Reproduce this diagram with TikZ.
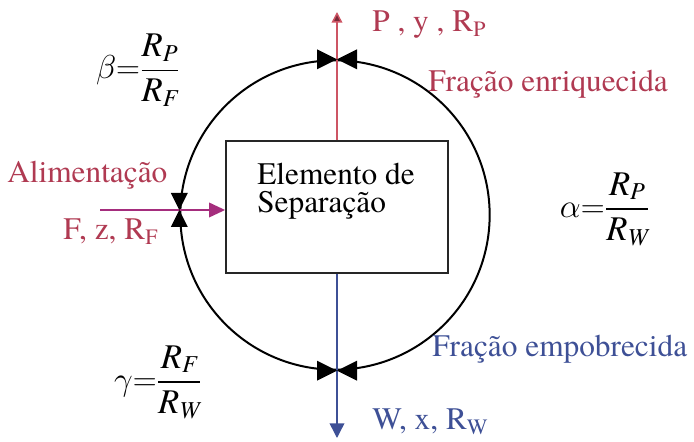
\documentclass[tikz,border=0pt]{standalone}
\usepackage{amsmath}
\usepackage{fontspec}
\setmainfont{texgyretermes}[Extension=.otf, UprightFont=*-regular,
  ItalicFont=*-italic, BoldFont=*-bold, BoldItalicFont=*-bolditalic]
\usetikzlibrary{arrows.meta,positioning}
\definecolor{enrichred}{RGB}{176,58,82}
\definecolor{linered}  {RGB}{205,85,100}
\definecolor{feedmag}  {RGB}{165,45,125}
\definecolor{depblue}  {RGB}{62,80,150}

\newcommand{\sepratio}[3]{$#1{=}\dfrac{\textit{R}_{\textit{#2}}}{\textit{R}_{\textit{#3}}}$}

\begin{document}
\begin{tikzpicture}[
  x=0.75pt, y=-0.75pt,
  lbl/.style={font=\fontsize{23.5}{21.5}\selectfont, inner sep=0pt, anchor=base west},
  ratiolbl/.style={font=\fontsize{26}{30}\selectfont, inner sep=0pt},
  stage/.style={circle, draw=black, line width=1.5pt, minimum size=232pt, inner sep=0pt},
  element/.style={rectangle, draw=black!85, line width=1.4pt,
    minimum width=166.5pt, minimum height=99pt, inner sep=0pt},
  redflow/.style={draw=linered, line width=1.1pt,
    -{Triangle[length=8pt,width=8pt,fill=enrichred!70!black]}},
  blueflow/.style={draw=depblue, line width=1.1pt,
    -{Triangle[length=11pt,width=11pt]}},
  feedflow/.style={draw=feedmag, line width=1.1pt,
    -{Triangle[length=12pt,width=11pt]}},
  valve/.pic={\fill[black] (-20,-10) -- (20,10) -- (20,-10) -- (-20,10) -- cycle;},
]
\useasboundingbox (0,0) rectangle (694,442);

% stage boundary and separating element
\node[stage]   (circ) at (335,215) {};
\node[element] (box)  at (337,207) {};
\node[lbl, text=black, align=left] (elemtxt) at (257,213) {Elemento de\\Separação};

% free ends of the streams
\coordinate (ptop) at (337,12);
\coordinate (wout) at (337,438);
\coordinate (fin)  at (100,210);

% streams
\draw[redflow]  (box.north) -- (ptop);
\draw[blueflow] (box.south) -- (wout);
\draw[feedflow] (fin) -- (fin -| box.west);

% valves on the boundary
\pic at (circ.north -| box.north) {valve};
\pic at (circ.south -| box.south) {valve};
\pic[rotate=90, scale=0.85] at (fin -| circ.west) {valve};

% stream labels
\node[lbl, text=enrichred] (plbl) at (372,32)  {P , y , R\textsubscript{P}};
\node[lbl, text=enrichred] (enr)  at (428,92)  {Fração enriquecida};
\node[lbl, text=enrichred] (alim) at (7,183)   {Alimentação};
\node[lbl, text=enrichred] (flbl) at (63,240)  {F, z, R\textsubscript{F}};
\node[lbl, text=depblue]   (emp)  at (432,357) {Fração empobrecida};
\node[lbl, text=depblue]   (wlbl) at (372,430) {W, x, R\textsubscript{W}};

% separation factors
\node[ratiolbl] (beta)  at (138,70)  {\sepratio{\beta}{P}{F}};
\node[ratiolbl] (alpha) at (605,209) {\sepratio{\alpha}{P}{W}};
\node[ratiolbl] (gamma) at (158,382) {\sepratio{\gamma}{F}{W}};

\end{tikzpicture}
\end{document}
